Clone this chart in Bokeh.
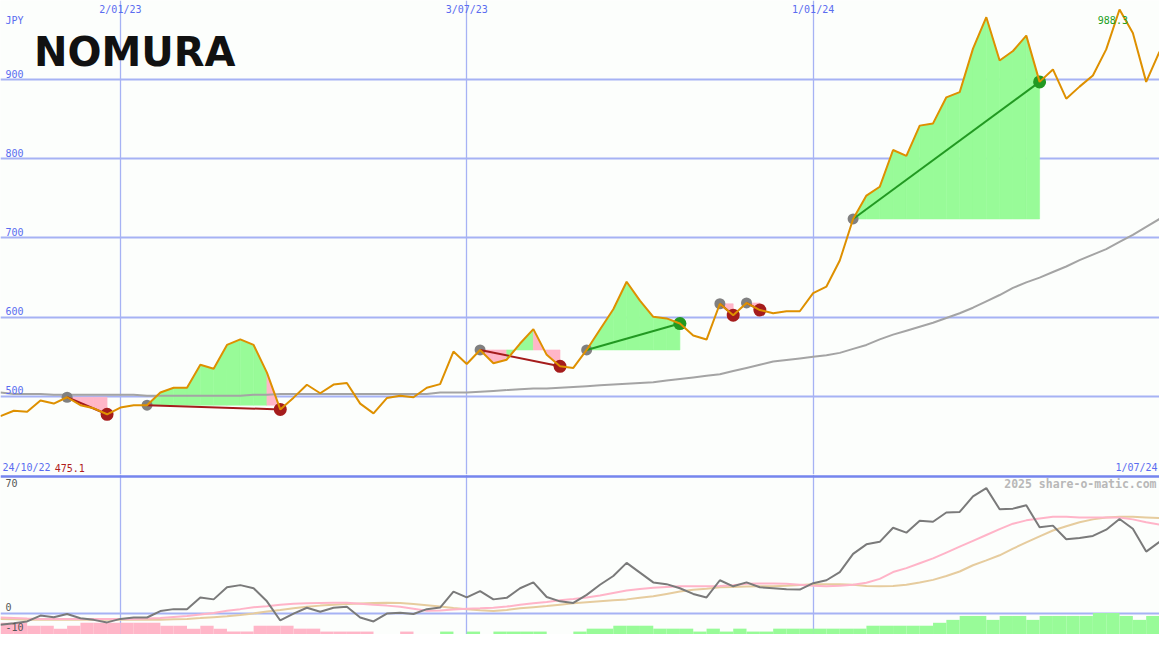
import pandas as pd
from bokeh.plotting import figure
from bokeh.layouts import column
from bokeh.models import Range1d, Span, Label, FixedTicker, Grid, ColumnDataSource
from bokeh.embed import file_html
from bokeh.resources import INLINE

# ---------------- data (weekly closes, JPY) ----------------
start_date = "2022-10-31"
price = [475.1, 481.9, 480.7, 495.0, 491.0, 499.0, 489.0, 485.0, 477.5, 486.0,
         489.0, 489.0, 505.0, 511.0, 511.0, 540.0, 535.0, 565.0, 572.0, 565.0,
         530.0, 483.6, 498.5, 514.8, 504.0, 515.0, 517.0, 491.0, 478.7, 498.0,
         501.0, 499.0, 511.0, 515.6, 556.6, 541.0, 558.7, 542.0, 546.4, 566.8,
         585.0, 552.5, 538.0, 536.0, 558.7, 584.5, 610.0, 644.8, 621.0, 600.5,
         598.5, 592.0, 577.0, 571.8, 617.0, 602.6, 618.0, 609.0, 605.0, 607.5,
         607.5, 630.5, 638.7, 671.5, 724.0, 753.5, 764.6, 811.0, 803.6, 841.8,
         844.6, 877.5, 884.0, 939.0, 978.6, 924.0, 936.0, 955.4, 897.0, 912.7,
         875.8, 891.0, 905.0, 938.0, 988.3, 958.6, 897.0, 935.0]

ma_long = [505, 503, 503, 503, 502, 502, 502, 502, 502, 502,
           502, 501, 501, 501, 501, 501, 501, 501, 501, 502,
           502, 503, 503, 503, 503, 503, 503, 503, 503, 503,
           503, 503, 503, 505, 505, 505, 506, 507, 508, 509,
           510, 510, 511, 512, 513, 514, 515, 516, 517, 518,
           520, 522, 524, 526, 528, 532, 536, 540, 544, 546,
           548, 550, 552, 555, 560, 565, 572, 578, 583, 588,
           593, 599, 605, 612, 620, 628, 637, 644, 650, 657,
           664, 672, 679, 686, 695, 704, 714, 724]

osc = [-6, -5.2, -4.3, -1.3, -2.2, -0.5, -2.7, -3.5, -4.8, -3,
       -2.3, -2.3, 1, 2, 2, 8, 7, 13.2, 14.3, 12.7,
       6, -3.8, -0.3, 2.7, 0.7, 2.7, 3.2, -2.3, -4.3, -0.3,
       0.2, -0.5, 2, 2.8, 11, 8, 11.2, 7, 7.8, 12.7,
       15.7, 8.2, 6, 5.2, 9.3, 14.5, 19, 25.7, 20.7, 15.7,
       14.8, 12.7, 9.8, 8, 16.8, 13.7, 15.7, 13.2, 12.7, 12.2,
       12, 15.3, 16.8, 21, 30.3, 35.2, 36.5, 43.7, 41.2, 47.3,
       46.8, 51.5, 51.8, 59.8, 64, 53.2, 53.5, 55.2, 44, 44.8,
       37.8, 38.5, 39.5, 42.7, 48.2, 43.2, 31.5, 36.5]

osc_fast = [-2.3, -2.5, -2.8, -3, -3, -3, -3, -3, -3, -3,
            -3, -2.8, -2.5, -2, -1.5, -0.8, 0, 1.2, 2, 3,
            3.5, 4.2, 4.8, 5, 5.2, 5.3, 5.3, 4.8, 4.2, 3.8,
            3.2, 2.2, 1.2, 1.3, 1.8, 2.2, 2.4, 2.7, 3.3, 4.3,
            5, 5.7, 6.5, 7.2, 8, 9, 10.3, 11.5, 12.3, 13,
            13.4, 13.7, 13.7, 13.7, 13.8, 14.2, 15, 15.2, 15.2, 15,
            14.5, 14, 13.7, 14, 14.5, 15.5, 17.5, 21, 23, 25.5,
            28, 31, 34, 37, 40, 43, 45.8, 47.5, 48.5, 49.3,
            49.3, 49, 49, 49, 49, 48, 46.5, 45.3]

osc_slow = [-3, -3.2, -3.4, -3.5, -3.5, -3.5, -3.5, -3.5, -3.5, -3.5,
            -3.5, -3.5, -3.4, -3.2, -3, -2.6, -2.1, -1.6, -1, -0.2,
            0.8, 1.6, 2.5, 3.2, 3.8, 4.2, 4.6, 4.9, 5.1, 5.3,
            5.2, 4.6, 4, 3.4, 2.6, 2, 1.4, 1, 1.6, 2.4,
            3, 3.6, 4.3, 5, 5.5, 6, 6.5, 7, 7.8, 8.6,
            9.8, 11, 11.9, 12.5, 13.2, 13.4, 13.6, 13.7, 13.7, 14,
            14.4, 14.8, 14.8, 14.8, 14.5, 13.8, 13.7, 13.8, 14.5, 15.6,
            17, 19, 21.3, 24.5, 27, 29.6, 33, 36.2, 39.3, 42.3,
            44.5, 46.5, 48, 49, 49.3, 49.3, 49, 48.7]

hist = [-6, -6, -4.5, -4.5, -3, -4.5, -6, -6, -6, -6,
        -6, -6, -4.5, -4.5, -3, -4.5, -3, -1.5, -1.5, -4.5,
        -4.5, -4.5, -3, -3, -1.5, -1.5, -1.5, -1.5, 0, 0,
        -1.5, 0, 0, 1.5, 0, 1.5, 0, 1.5, 1.5, 1.5,
        1.5, 0, 0, 1.5, 3, 3, 4.5, 4.5, 4.5, 3,
        3, 3, 1.5, 3, 1.5, 3, 1.5, 1.5, 3, 3,
        3, 3, 3, 3, 3, 4.5, 4.5, 4.5, 4.5, 4.5,
        6, 7.5, 9.5, 9.5, 7.5, 9.5, 9.5, 7.5, 9.5, 9.5,
        9.5, 9.5, 11, 11, 9.5, 7.5, 9.5, 9.5]
hist_base = -11

entries = [5, 11, 36, 44, 54, 56, 64]
exits = [8, 21, 42, 51, 55, 57, 78]

xtick_dates = ["2023-01-02", "2023-07-03", "2024-01-01"]
xtick_labels = ["2/01/23", "3/07/23", "1/01/24"]
price_ticks = [500, 600, 700, 800, 900]
osc_ticks = [70, 0, -10]
first_label, last_label = "24/10/22", "1/07/24"

# ---------------- styling ----------------
W, H1, H2 = 1159, 474, 160
SX, SY1, SY2 = W / 1175, H1 / 486, H2 / 164
BG = "#fcfefc"
GRID = "#a6b2f4"
SEP = "#7585ee"
AXT = "#5a6cf0"
MONO = "DejaVu Sans Mono"
ORANGE = "#de9000"
PINK = "#ffb6c8"
LGREEN = "#98fb98"

def ms(s):
    return pd.Timestamp(s).value // 10**6

dates = pd.date_range(start_date, periods=len(price), freq="7D")
t = [d.value // 10**6 for d in dates]
WEEK = 7 * 24 * 3600 * 1000
xr = Range1d(t[0], t[-1])
Y1 = (401.5, 999.7)
Y2 = (-11, 71)

def sy1(v):
    return (v - Y1[0]) / (Y1[1] - Y1[0]) * H1

def sy2(v):
    return (v - Y2[0]) / (Y2[1] - Y2[0]) * H2

def mk(h, yr):
    p = figure(width=W, height=h, x_range=xr, y_range=Range1d(*yr),
               x_axis_location=None, y_axis_location=None,
               output_backend="svg", toolbar_location=None, min_border=0,
               background_fill_color=BG, border_fill_color=BG,
               outline_line_color=None)
    p.grid.visible = False
    return p

# ---------------- main price panel ----------------
p1 = mk(H1, Y1)
p1.add_layout(Grid(dimension=0, ticker=FixedTicker(ticks=[ms(s) for s in xtick_dates]),
                   grid_line_color=GRID, grid_line_width=1.3))
p1.add_layout(Grid(dimension=1, ticker=FixedTicker(ticks=price_ticks),
                   grid_line_color=GRID, grid_line_width=2))

# trade shading
fx, fy, fc = [], [], []
for e, x in zip(entries, exits):
    lvl = price[e]
    for j in range(e, x):
        fx.append([t[j], t[j], t[j + 1], t[j + 1]])
        fy.append([lvl, price[j], price[j + 1], lvl])
        fc.append(LGREEN if price[j + 1] >= lvl else PINK)
p1.patches(xs="xs", ys="ys", fill_color="c", line_color="c", line_width=0.6,
           source=ColumnDataSource(dict(xs=fx, ys=fy, c=fc)))

p1.line(t, ma_long, line_color="#a4a4a4", line_width=2)

# trade markers and connecting lines
ex_col = ["#229922" if price[x] > price[e] else "#a51c1c" for e, x in zip(entries, exits)]
p1.scatter([t[e] for e in entries], [price[e] for e in entries], size=11,
           fill_color="#808080", line_color=None)
p1.scatter([t[x] for x in exits], [price[x] for x in exits], size=13,
           fill_color=ex_col, line_color=None)
p1.segment(x0=[t[e] for e in entries], y0=[price[e] for e in entries],
           x1=[t[x] for x in exits], y1=[price[x] for x in exits],
           line_color=ex_col, line_width=2)

p1.line(t, price, line_color=ORANGE, line_width=2)

# texts
for s, lab in zip(xtick_dates, xtick_labels):
    p1.add_layout(Label(x=ms(s), y=H1 - 9 * SY1, y_units="screen", text=lab,
                        text_align="center", text_baseline="middle",
                        text_font=MONO, text_font_size="10px", text_color=AXT))
for v in price_ticks:
    p1.add_layout(Label(x=5 * SX, x_units="screen", y=sy1(v) + 2, y_units="screen",
                        text=str(v), text_baseline="bottom",
                        text_font=MONO, text_font_size="10px", text_color=AXT))
p1.add_layout(Label(x=5 * SX, x_units="screen", y=H1 - 20 * SY1, y_units="screen",
                    text="JPY", text_baseline="middle",
                    text_font=MONO, text_font_size="10px", text_color=AXT))
p1.add_layout(Label(x=34 * SX, x_units="screen", y=H1 - 53 * SY1, y_units="screen",
                    text="NOMURA", text_baseline="middle",
                    text_font="DejaVu Sans", text_font_style="bold",
                    text_font_size="40px", text_color="#111111"))
p1.add_layout(Label(x=2 * SX, x_units="screen", y=H1 - 479 * SY1, y_units="screen",
                    text=first_label, text_baseline="middle",
                    text_font=MONO, text_font_size="10px", text_color=AXT))
imin = price.index(min(price))
imax = price.index(max(price))
p1.add_layout(Label(x=55 * SX, x_units="screen", y=H1 - 479 * SY1, y_units="screen",
                    text=f"{price[imin]:.1f}", text_baseline="middle",
                    text_font=MONO, text_font_size="10px", text_color="#b01c1c"))
p1.add_layout(Label(x=1173 * SX, x_units="screen", y=H1 - 479 * SY1, y_units="screen",
                    text=last_label, text_align="right", text_baseline="middle",
                    text_font=MONO, text_font_size="10px", text_color=AXT))
p1.add_layout(Label(x=t[imax] - WEEK // 2, y=H1 - 20 * SY1, y_units="screen",
                    text=f"{price[imax]:.1f}", text_align="center", text_baseline="middle",
                    text_font=MONO, text_font_size="10px", text_color="#22a022"))

# ---------------- lower indicator panel ----------------
p2 = mk(H2, Y2)
p2.add_layout(Grid(dimension=0, ticker=FixedTicker(ticks=[ms(s) for s in xtick_dates]),
                   grid_line_color=GRID, grid_line_width=1.3))
p2.add_layout(Grid(dimension=1, ticker=FixedTicker(ticks=[0]),
                   grid_line_color=GRID, grid_line_width=2))

p2.quad(left=t, right=[v + WEEK for v in t], bottom=[hist_base] * len(hist),
        top=[hist_base + abs(h) for h in hist],
        fill_color=[LGREEN if h > 0 else PINK for h in hist], line_color=None)
p2.line(t, osc_slow, line_color="#e6cc9e", line_width=2)
p2.line(t, osc_fast, line_color="#ffb4c8", line_width=2)
p2.line(t, osc, line_color="#7a7a7a", line_width=2)
p2.add_layout(Span(location=Y2[1] - 1, dimension="width", line_color=SEP, line_width=2.5))

for v in osc_ticks:
    if v == max(osc_ticks):
        yy, bl = H2 - 5 * SY2, "top"
    else:
        yy, bl = sy2(v) + 2, "bottom"
    p2.add_layout(Label(x=5 * SX, x_units="screen", y=yy, y_units="screen",
                        text=str(v), text_baseline=bl,
                        text_font=MONO, text_font_size="10px", text_color="#555555"))
p2.add_layout(Label(x=1172 * SX, x_units="screen", y=H2 - 10 * SY2, y_units="screen",
                    text="2025 share-o-matic.com", text_align="right", text_baseline="middle",
                    text_font=MONO, text_font_style="bold", text_font_size="11.5px",
                    text_color="#b8b8b8"))

page = column(p1, p2, spacing=0)
open("out.html", "w").write(file_html(page, INLINE))
